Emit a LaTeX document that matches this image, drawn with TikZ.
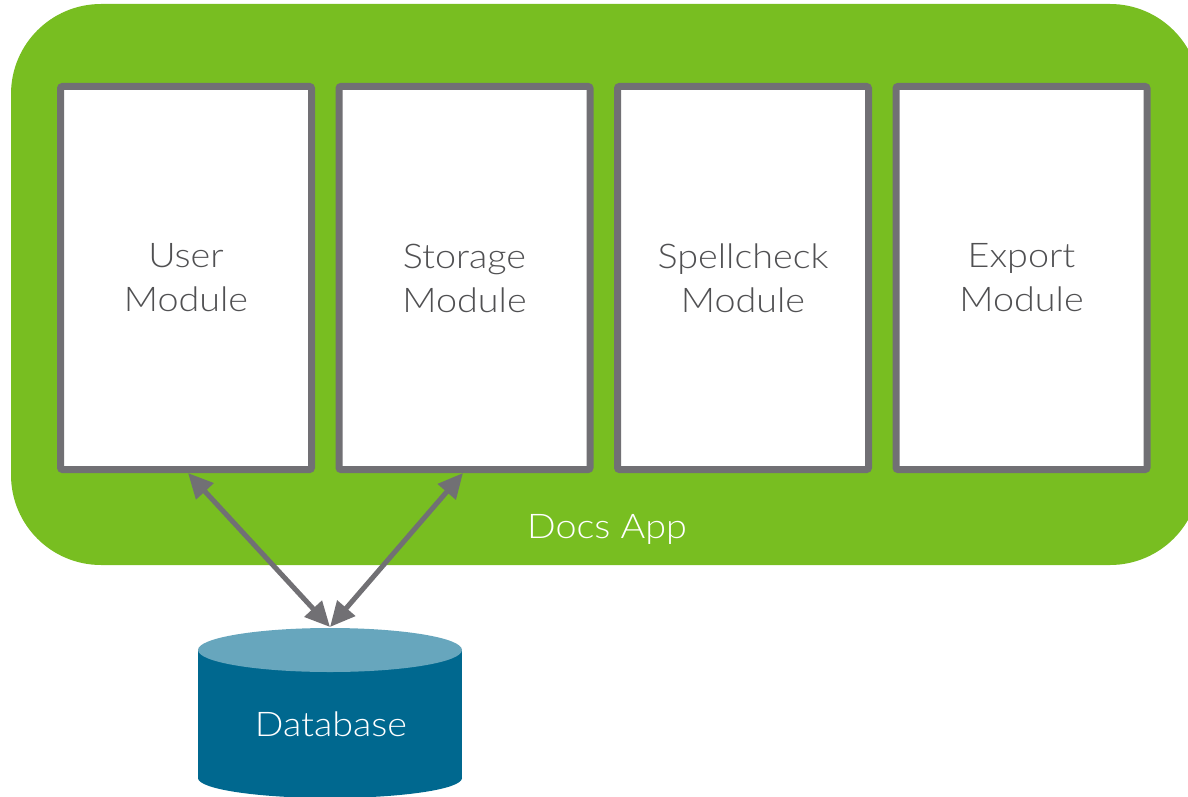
\documentclass[tikz,border=0pt]{standalone}
\usepackage{fontspec}
\setmainfont{Lato}[UprightFont={* Light}, FakeStretch=1.11]
\usetikzlibrary{arrows.meta}
\definecolor{appgreen}{HTML}{78BE21}
\definecolor{boxgray}{HTML}{717074}
\definecolor{textgray}{HTML}{505052}
\definecolor{dbbody}{HTML}{00688F}
\definecolor{dbtop}{HTML}{67A6BD}
\tikzset{
  module/.style={draw=boxgray, line width=7pt, fill=white, rounded corners=2pt,
    minimum width=251pt, minimum height=383pt, inner sep=0pt, align=center,
    text=textgray, font=\fontsize{34}{44}\selectfont},
  link/.style={draw=boxgray, line width=5pt,
    {Triangle[length=25pt,width=23pt]}-{Triangle[length=25pt,width=23pt]}},
  whitelabel/.style={text=white, font=\fontsize{34}{44}\selectfont, inner sep=0pt}
}
\begin{document}
\begin{tikzpicture}[x=1pt,y=-1pt]
\useasboundingbox (0,0) rectangle (1188,797);
% app container
\fill[appgreen, rounded corners=90pt] (11,4) rectangle (1200,565);
\node[whitelabel, anchor=base] (app) at (607,538) {Docs App};
% modules
\node[module] (user) at (186,278) {User\\Module};
\node[module] (storage) at (464.5,278) {Storage\\Module};
\node[module] (spell) at (743,278) {Spellcheck\\Module};
\node[module] (export) at (1021.5,278) {Export\\Module};
% database cylinder
\fill[dbbody] (198,650) rectangle (462,778);
\fill[dbbody] (330,778) ellipse [x radius=132, y radius=20];
\fill[dbtop] (330,650) ellipse [x radius=132, y radius=22];
\node[whitelabel, anchor=base] (db) at (331,736) {Database};
\coordinate (dbin) at (330,627);
\coordinate (userout) at (188,473);
\coordinate (storageout) at (463,473);
% connectors
\draw[link] (userout) -- (dbin);
\draw[link] (storageout) -- (dbin);
\end{tikzpicture}
\end{document}
